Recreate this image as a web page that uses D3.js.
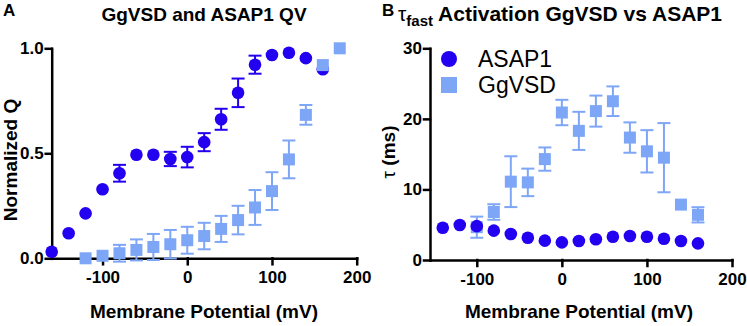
<!DOCTYPE html>
<html>
<head>
<meta charset="utf-8">
<script src="https://cdn.jsdelivr.net/npm/d3@7"></script>
<style>
  html, body { margin: 0; padding: 0; background: #fff; }
  svg { display: block; font-family: Arial, "Liberation Sans", Helvetica, sans-serif; }
  .axis path, .axis line { stroke: #000; stroke-width: 2.5px; stroke-linecap: square; }
  .axis text { font-size: 17px; font-weight: bold; fill: #000; }
</style>
</head>
<body>
<svg id="chart" width="747" height="326"></svg>
<script>
// Q-V curves (panel A)
const qvAsapV   = [-160, -140, -120, -100, -80, -60, -40, -20, 0, 20, 40, 60, 80, 100, 120, 140, 160];
const qvAsapQ   = [0.031, 0.119, 0.214, 0.329, 0.405, 0.493, 0.493, 0.473, 0.482, 0.553, 0.662, 0.788, 0.922, 0.968, 0.979, 0.953, 0.90];
const qvAsapErr = [0, 0, 0, 0, 0.04, 0, 0, 0.034, 0.049, 0.043, 0.05, 0.068, 0.043, 0, 0, 0, 0];

const qvGgV   = [-120, -100, -80, -60, -40, -20, 0, 20, 40, 60, 80, 100, 120, 140, 160, 180];
const qvGgQ   = [0.0, 0.012, 0.024, 0.04, 0.054, 0.067, 0.086, 0.106, 0.14, 0.182, 0.242, 0.32, 0.471, 0.683, 0.92, 1.0];
const qvGgErr = [0, 0, 0.04, 0.05, 0.062, 0.068, 0.064, 0.063, 0.062, 0.068, 0.083, 0.09, 0.09, 0.047, 0, 0];

// fast activation time constants (panel B)
const tauAsapV   = [-140, -120, -100, -80, -60, -40, -20, 0, 20, 40, 60, 80, 100, 120, 140, 160];
const tauAsap    = [4.58, 4.96, 4.8, 4.16, 3.68, 3.16, 2.74, 2.5, 2.69, 2.93, 3.3, 3.4, 3.3, 3.02, 2.69, 2.36];

const tauGgV   = [-100, -80, -60, -40, -20, 0, 20, 40, 60, 80, 100, 120, 140, 160];
const tauGg    = [4.65, 6.8, 11.1, 11.0, 14.3, 20.9, 18.3, 21.1, 22.5, 17.35, 15.4, 14.5, 7.85, 6.4];
const tauGgErr = [1.5, 1.1, 3.6, 1.95, 1.65, 1.8, 2.7, 2.2, 2.1, 2.15, 3.0, 4.9, 0, 1.08];

const xTicks = [-100, 0, 100, 200];
const qTicks = [0, 0.5, 1.0];
const tauTicks = [0, 10, 20, 30];

const dark = "#2400f0";
const light = "#7ea6f7";

const svg = d3.select("#chart");

const xA = d3.scaleLinear().domain([-160, 200]).range([51.7, 356.7]);
const yA = d3.scaleLinear().domain([0, 1]).range([258.3, 48.3]);
const xB = d3.scaleLinear().domain([-155, 200]).range([430, 732]);
const yB = d3.scaleLinear().domain([0, 30]).range([260, 48.3]);

function axes(x, y, yTicks, yFmt) {
  const g = svg.append("g");
  g.append("g").attr("class", "axis")
    .attr("transform", `translate(0,${y.range()[0]})`)
    .call(d3.axisBottom(x).tickValues(xTicks).tickSize(6).tickSizeOuter(0)
      .tickPadding(7).tickFormat(d => String(d)));
  g.append("g").attr("class", "axis")
    .attr("transform", `translate(${x.range()[0]},0)`)
    .call(d3.axisLeft(y).tickValues(yTicks).tickSize(6).tickSizeOuter(0)
      .tickPadding(2).tickFormat(yFmt));
  return g;
}

function errorBars(x, y, xs, ys, errs, color) {
  const g = svg.append("g").attr("stroke", color).attr("stroke-width", 2).attr("fill", "none");
  xs.forEach((v, i) => {
    const e = errs[i];
    if (!e) return;
    const cx = x(v), y0 = y(ys[i] - e), y1 = y(ys[i] + e);
    g.append("line").attr("x1", cx).attr("x2", cx).attr("y1", y0).attr("y2", y1);
    g.append("line").attr("x1", cx - 6.5).attr("x2", cx + 6.5).attr("y1", y0).attr("y2", y0);
    g.append("line").attr("x1", cx - 6.5).attr("x2", cx + 6.5).attr("y1", y1).attr("y2", y1);
  });
}

function circles(x, y, xs, ys) {
  svg.append("g").selectAll("circle").data(xs).join("circle")
    .attr("cx", d => x(d)).attr("cy", (d, i) => y(ys[i])).attr("r", 6.3)
    .attr("fill", dark);
}

function squares(x, y, xs, ys) {
  svg.append("g").selectAll("rect").data(xs).join("rect")
    .attr("x", d => x(d) - 6).attr("y", (d, i) => y(ys[i]) - 6)
    .attr("width", 12).attr("height", 12).attr("fill", light);
}

// panel A
axes(xA, yA, qTicks, d3.format(".1f"));
errorBars(xA, yA, qvAsapV, qvAsapQ, qvAsapErr, dark);
circles(xA, yA, qvAsapV, qvAsapQ);
errorBars(xA, yA, qvGgV, qvGgQ, qvGgErr, light);
squares(xA, yA, qvGgV, qvGgQ);

// panel B
axes(xB, yB, tauTicks, d3.format("d"));
errorBars(xB, yB, tauGgV, tauGg, tauGgErr, light);
squares(xB, yB, tauGgV, tauGg);
circles(xB, yB, tauAsapV, tauAsap);

// legend
const legend = svg.append("g");
legend.append("circle").attr("cx", 449).attr("cy", 59).attr("r", 8).attr("fill", dark);
legend.append("rect").attr("x", 441).attr("y", 77).attr("width", 16).attr("height", 16).attr("fill", light);
legend.append("text").attr("x", 478).attr("y", 67).attr("font-size", 23).text("ASAP1");
legend.append("text").attr("x", 478).attr("y", 93).attr("font-size", 23).text("GgVSD");

// titles and labels
const bold = (sel) => sel.attr("font-weight", "bold").attr("fill", "#000");

bold(svg.append("text")).attr("x", 3).attr("y", 16).attr("font-size", 17).text("A");
bold(svg.append("text")).attr("x", 382).attr("y", 16).attr("font-size", 17).text("B");

bold(svg.append("text")).attr("x", 204).attr("y", 21).attr("font-size", 19)
  .attr("text-anchor", "middle").text("GgVSD and ASAP1 QV");

const tB = bold(svg.append("text")).attr("x", 398).attr("y", 21).attr("font-size", 21);
tB.append("tspan").attr("font-weight", "normal").text("τ");
tB.append("tspan").attr("font-size", 15).attr("dy", 5).text("fast");
tB.append("tspan").attr("dy", -5).text(" Activation GgVSD vs ASAP1");

bold(svg.append("text")).attr("x", 204).attr("y", 318).attr("font-size", 19)
  .attr("text-anchor", "middle").text("Membrane Potential (mV)");
bold(svg.append("text")).attr("x", 579).attr("y", 318).attr("font-size", 19)
  .attr("text-anchor", "middle").text("Membrane Potential (mV)");

bold(svg.append("text")).attr("transform", "translate(17,160) rotate(-90)")
  .attr("font-size", 19).attr("text-anchor", "middle").text("Normalized Q");

const yLabB = bold(svg.append("text")).attr("transform", "translate(395,152) rotate(-90)")
  .attr("font-size", 19).attr("text-anchor", "middle");
yLabB.append("tspan").attr("font-weight", "normal").text("τ");
yLabB.append("tspan").text(" (ms)");
</script>
</body>
</html>
